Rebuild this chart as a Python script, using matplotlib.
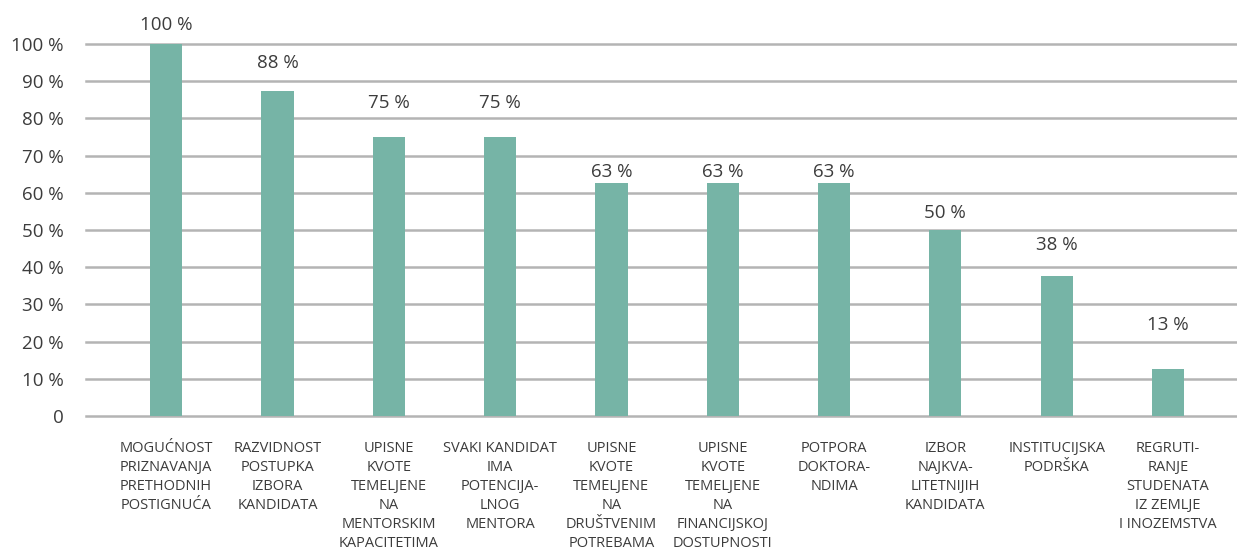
import matplotlib
matplotlib.use("Agg")
import matplotlib.pyplot as plt
import numpy as np

# data
categories = [
    "MOGUĆNOST\nPRIZNAVANJA\nPRETHODNIH\nPOSTIGNUĆA",
    "RAZVIDNOST\nPOSTUPKA\nIZBORA\nKANDIDATA",
    "UPISNE\nKVOTE\nTEMELJENE\nNA\nMENTORSKIM\nKAPACITETIMA",
    "SVAKI KANDIDAT\nIMA\nPOTENCIJA-\nLNOG\nMENTORA",
    "UPISNE\nKVOTE\nTEMELJENE\nNA\nDRUŠTVENIM\nPOTREBAMA",
    "UPISNE\nKVOTE\nTEMELJENE\nNA\nFINANCIJSKOJ\nDOSTUPNOSTI",
    "POTPORA\nDOKTORA-\nNDIMA",
    "IZBOR\nNAJKVA-\nLITETNIJIH\nKANDIDATA",
    "INSTITUCIJSKA\nPODRŠKA",
    "REGRUTI-\nRANJE\nSTUDENATA\nIZ ZEMLJE\nI INOZEMSTVA",
]
values = [100, 87.5, 75, 75, 62.5, 62.5, 62.5, 50, 37.5, 12.5]
value_labels = ["100 %", "88 %", "75 %", "75 %", "63 %", "63 %", "63 %", "50 %", "38 %", "13 %"]
yticks = list(range(0, 101, 10))
ytick_labels = ["0"] + [f"{t} %" for t in yticks[1:]]

# where each value label sits above its bar (in axis units), as in the source
label_offsets = [5.1, 7.4, 9.1, 9.1, 3.1, 3.1, 3.1, 4.6, 8.5, 12.0]

BAR = "#76b4a6"
GRID = "#b4b4b4"
TEXT = "#3c3c3c"

plt.rcParams["font.family"] = ["Open Sans", "DejaVu Sans"]

fig = plt.figure(figsize=(12.37, 5.55), dpi=100)
ax = fig.add_axes([0.0695, 0.2505, 0.9305, 0.6702])

x = np.arange(len(values))
ax.bar(x, values, width=0.29, color=BAR, zorder=3)

for xi, v, lab, off in zip(x, values, value_labels, label_offsets):
    ax.text(xi, v + off, lab, ha="center", va="center", fontsize=13.5,
            color=TEXT, clip_on=False)

ax.set_xlim(-0.72, 9.62)
ax.set_ylim(0, 100)
ax.set_yticks(yticks)
ax.set_yticklabels(ytick_labels, fontsize=13.5, color=TEXT)
ax.set_xticks(x)
ax.set_xticklabels(categories, fontsize=10.5, color=TEXT, linespacing=1.36,
                   va="top")
ax.tick_params(axis="y", length=0, pad=16)
ax.tick_params(axis="x", length=0, pad=18)

ax.yaxis.grid(True, color=GRID, linewidth=1.8, zorder=0)
for gl in ax.get_ygridlines():
    gl.set_clip_on(False)
for s in ax.spines.values():
    s.set_visible(False)

fig.savefig("out.png", dpi=100)
